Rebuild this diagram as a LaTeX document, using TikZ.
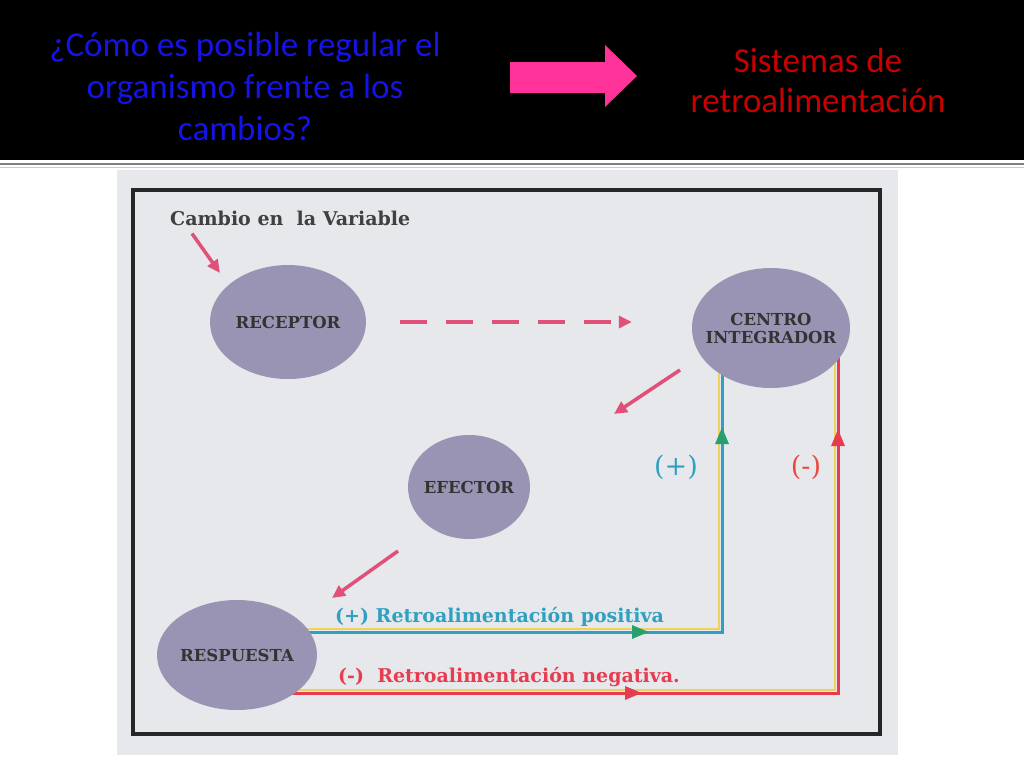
\documentclass[tikz,border=0pt]{standalone}
\usepackage{fontspec}
\setmainfont{Liberation Serif}
\newfontfamily\titlefont{Carlito}
\newfontfamily\diagfont{DejaVu Serif}
\usetikzlibrary{arrows.meta, positioning, shapes.geometric, decorations.markings}
\pgfdeclarelayer{background}
\pgfsetlayers{background,main}

\definecolor{bluetitle}{RGB}{20,20,230}
\definecolor{redtitle}{RGB}{200,0,0}
\definecolor{pinkbig}{RGB}{255,51,153}
\definecolor{scanbg}{RGB}{230,232,236}
\definecolor{ovalfill}{RGB}{154,148,180}
\definecolor{pinkline}{RGB}{224,80,120}
\definecolor{tealline}{RGB}{48,160,192}
\definecolor{greenhead}{RGB}{40,160,110}
\definecolor{redline}{RGB}{230,60,80}
\definecolor{yellowline}{RGB}{240,210,90}

\begin{document}
\begin{tikzpicture}[x=1pt, y=-1pt,
    oval/.style={ellipse, fill=ovalfill, inner sep=-16pt, align=center,
      font=\diagfont\bfseries\fontsize{16.5}{18}\selectfont, text=black!80},
    pinkarr/.style={draw=pinkline, line width=3.5pt, -{Triangle[length=13pt,width=12pt]}},
    textlbl/.style={inner sep=0pt, anchor=west, font=\diagfont\bfseries\fontsize{19}{21}\selectfont},
    loopmark/.style={postaction={decorate}}
  ]
  \useasboundingbox (0,0) rectangle (1024,768);
  % top band
  \fill[black] (0,0) rectangle (1024,160);
  \draw[gray, line width=2pt] (0,164) -- (1024,164);
  \draw[gray!40, line width=1pt] (0,167) -- (1024,167);

  \node[align=center, text=bluetitle, font=\titlefont\fontsize{35}{42}\selectfont]
    (question) at (245,86) {¿Cómo es posible regular el\\organismo frente a los\\cambios?};
  \node[align=center, text=redtitle, font=\titlefont\fontsize{35}{40}\selectfont]
    (answer) at (818,80) {Sistemas de\\retroalimentación};
  \fill[pinkbig] (510,62) -- (605,62) -- (605,45) -- (637,76) -- (605,107) -- (605,93) -- (510,93) -- cycle;

  % the scanned scheme
  \node[oval, minimum width=156pt, minimum height=114pt] (rec) at (288,322) {RECEPTOR};
  \node[oval, minimum width=158pt, minimum height=120pt] (cent) at (771,328) {CENTRO\\INTEGRADOR};
  \node[oval, minimum width=122pt, minimum height=104pt] (eff) at (469,487) {EFECTOR};
  \node[oval, minimum width=160pt, minimum height=110pt] (resp) at (237,655) {RESPUESTA};

  \node[textlbl, text=black!75] (cambio) at (170,218) {Cambio en\ \ la Variable};
  \node[textlbl, text=tealline] (poslbl) at (335,617) {(+) Retroalimentación positiva};
  \node[textlbl, text=redline] (neglbl) at (338,677) {(-)\ \ Retroalimentación negativa.};
  \node[font=\diagfont\fontsize{27}{27}\selectfont, text=tealline] (plus) at (676,467) {(+)};
  \node[font=\diagfont\fontsize{27}{27}\selectfont, text=redline!80!orange] (minus) at (806,467) {(-)};

  \coordinate (posturn) at (722,632);
  \coordinate (negturn) at (838,693);

  \draw[pinkarr] ([xshift=22pt,yshift=-8pt]cambio.south west) -- ([xshift=-68pt,yshift=49pt]rec.center);
  \draw[pinkarr, dash pattern=on 27pt off 19pt, shorten <=34pt, shorten >=60pt] (rec.east) -- (rec.east -| cent.west);
  \draw[pinkarr] ([xshift=-91pt,yshift=-42pt]cent.center) -- ([xshift=145pt,yshift=73pt]eff.center);
  \draw[pinkarr] ([xshift=-71pt,yshift=-64pt]eff.center) -- ([xshift=95pt,yshift=57pt]resp.center);

  \begin{pgfonlayer}{background}
    \fill[scanbg] (117,170) rectangle (898,755);
    \draw[black!85, line width=3.5pt] (133,190) rectangle (880,734);
    % positive loop
    \draw[yellowline, line width=2.5pt] ([shift={(-3pt,3pt)}]resp |- posturn) -- ([shift={(-3pt,3pt)}]posturn) -- ([xshift=-3pt]posturn |- cent);
    \draw[tealline, line width=3pt, loopmark, decoration={markings,
        mark=at position 412pt with {\arrow[greenhead]{Triangle[length=17pt,width=13pt]}},
        mark=at position 690pt with {\arrow[greenhead]{Triangle[length=17pt,width=13pt]}}}]
      (resp |- posturn) -- (posturn) -- (posturn |- cent);
    % negative loop
    \draw[yellowline, line width=2.5pt] ([shift={(-3pt,3pt)}]resp |- negturn) -- ([shift={(-3pt,3pt)}]negturn) -- ([xshift=-3pt]negturn |- cent);
    \draw[redline, line width=3pt, loopmark, decoration={markings,
        mark=at position 405pt with {\arrow[redline]{Triangle[length=17pt,width=13pt]}},
        mark=at position 865pt with {\arrow[redline]{Triangle[length=17pt,width=13pt]}}}]
      (resp |- negturn) -- (negturn) -- (negturn |- cent);
  \end{pgfonlayer}
\end{tikzpicture}
\end{document}
